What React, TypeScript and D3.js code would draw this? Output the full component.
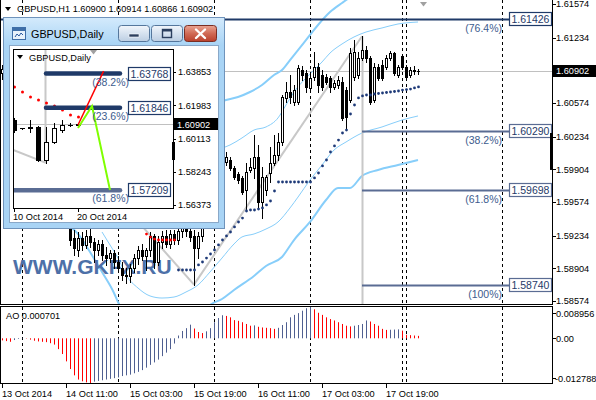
import React from "react";
import * as d3 from "d3";

const FONT = "'Liberation Sans', Arial, Helvetica, sans-serif";

// ---------- GBPUSD H1, bar index 0 = 14 Oct 2014 00:00 ----------
const h1FirstBar = -5;
const h1Open = [
  1.6088, 1.6092, 1.6097, 1.6093, 1.609, 1.6095, 1.6098, 1.6101, 1.6096, 1.6092,
  1.609, 1.6083, 1.6089, 1.6086, 1.607, 1.6022, 1.5975, 1.5946, 1.5921, 1.5909,
  1.5921, 1.5914, 1.5923, 1.5917, 1.5909, 1.5915, 1.5904, 1.5901, 1.5906, 1.5897,
  1.5891, 1.5884, 1.5883, 1.5891, 1.5901, 1.5909, 1.5903, 1.5909, 1.5923, 1.5897,
  1.5917, 1.5923, 1.5915, 1.5925, 1.5919, 1.5928, 1.5937, 1.5928, 1.5923, 1.5911,
  1.5923, 1.5945, 1.596, 1.5952, 1.5975, 1.5988, 1.59978, 1.59998, 1.59918, 1.59857,
  1.59817, 1.59695, 1.59898, 1.59918, 1.60029, 1.59574, 1.59695, 1.59867, 1.59968, 1.60049,
  1.6018, 1.60625, 1.60685, 1.60584, 1.60584, 1.60907, 1.60877, 1.60726, 1.60837, 1.60938,
  1.60857, 1.60837, 1.60827, 1.60736, 1.60756, 1.60786, 1.60705, 1.60604, 1.60837, 1.60857,
  1.61029, 1.61109, 1.61029, 1.60604, 1.60938, 1.60958, 1.60938, 1.61029, 1.61079, 1.60857,
  1.61049, 1.60938, 1.60857, 1.60897, 1.609,
];
const h1High = [
  1.6096, 1.6101, 1.6104, 1.6098, 1.6097, 1.6102, 1.6105, 1.6108, 1.6103, 1.6099,
  1.6096, 1.6094, 1.61, 1.6092, 1.6075, 1.603, 1.5983, 1.595, 1.5929, 1.5927,
  1.5927, 1.5929, 1.593, 1.5921, 1.5919, 1.5919, 1.5912, 1.5909, 1.5909, 1.5903,
  1.5897, 1.5891, 1.5895, 1.5905, 1.5913, 1.5915, 1.5911, 1.5927, 1.5925, 1.5923,
  1.5928, 1.5929, 1.5929, 1.5929, 1.5937, 1.5943, 1.5941, 1.5934, 1.5929, 1.5927,
  1.595, 1.5968, 1.5972, 1.5982, 1.5995, 1.6003, 1.60079, 1.60029, 1.59938, 1.59877,
  1.59837, 1.59968, 1.60019, 1.60251, 1.6015, 1.59928, 1.59847, 1.6013, 1.60251, 1.60271,
  1.60655, 1.60786, 1.60857, 1.60756, 1.60958, 1.60948, 1.60907, 1.60887, 1.61089, 1.60978,
  1.60907, 1.60867, 1.60847, 1.60806, 1.60847, 1.60837, 1.60736, 1.6113, 1.6121, 1.61089,
  1.61248, 1.6115, 1.61049, 1.60978, 1.60968, 1.61008, 1.61059, 1.61099, 1.61089, 1.60958,
  1.61069, 1.60958, 1.60938, 1.60948, 1.60914,
];
const h1Low = [
  1.6082, 1.6087, 1.6089, 1.6086, 1.6085, 1.609, 1.6093, 1.6094, 1.6088, 1.6085,
  1.6079, 1.6078, 1.6084, 1.6066, 1.601, 1.5968, 1.594, 1.5914, 1.5904, 1.5903,
  1.5909, 1.5911, 1.5912, 1.5897, 1.5904, 1.5899, 1.5894, 1.5897, 1.5891, 1.5887,
  1.5879, 1.5876, 1.5877, 1.5887, 1.5895, 1.5899, 1.5889, 1.5903, 1.5891, 1.5894,
  1.5911, 1.5912, 1.5911, 1.5915, 1.5915, 1.5922, 1.5923, 1.5918, 1.5874, 1.5901,
  1.5918, 1.5938, 1.5945, 1.5948, 1.5968, 1.598, 1.59948, 1.59898, 1.59807, 1.59766,
  1.59655, 1.59493, 1.59877, 1.59817, 1.59524, 1.59412, 1.59645, 1.59776, 1.59948, 1.59998,
  1.6015, 1.60584, 1.60574, 1.60554, 1.60564, 1.60806, 1.60685, 1.60705, 1.60806, 1.60685,
  1.60705, 1.60766, 1.60685, 1.60715, 1.60726, 1.60402, 1.60301, 1.60584, 1.60806, 1.60827,
  1.61008, 1.60988, 1.60564, 1.60584, 1.60806, 1.60806, 1.60917, 1.61008, 1.60857, 1.60837,
  1.60917, 1.60816, 1.60837, 1.60867, 1.60866,
];
const h1Close = [
  1.6092, 1.6097, 1.6093, 1.609, 1.6095, 1.6098, 1.6101, 1.6096, 1.6092, 1.609,
  1.6083, 1.6089, 1.6086, 1.607, 1.6022, 1.5975, 1.5946, 1.5919, 1.5911, 1.5921,
  1.5914, 1.5923, 1.5917, 1.5909, 1.5915, 1.5904, 1.5901, 1.5906, 1.5897, 1.5891,
  1.5884, 1.5883, 1.5891, 1.5901, 1.5909, 1.5903, 1.5909, 1.5923, 1.5897, 1.5917,
  1.5923, 1.5915, 1.5925, 1.5919, 1.5928, 1.5937, 1.5928, 1.5922, 1.5911, 1.5923,
  1.5945, 1.596, 1.5952, 1.5975, 1.5988, 1.5996, 1.60029, 1.59918, 1.59827, 1.59796,
  1.59675, 1.59877, 1.59928, 1.60029, 1.59574, 1.59827, 1.59827, 1.59968, 1.60049, 1.6018,
  1.60635, 1.60685, 1.60635, 1.60705, 1.60928, 1.60857, 1.60736, 1.60827, 1.60938, 1.60756,
  1.60736, 1.60786, 1.60736, 1.60776, 1.60806, 1.60423, 1.60433, 1.61079, 1.61089, 1.61029,
  1.61109, 1.61029, 1.60584, 1.60938, 1.60827, 1.60827, 1.61029, 1.61079, 1.60877, 1.60938,
  1.60938, 1.60837, 1.60907, 1.60905, 1.60902,
];

// Awesome Oscillator, same bars as the H1 candles
const aoValues = [
  -0.0006, -0.0008, -0.001, -0.0005, -0.0002, 0.0001, -0.0001, -0.0004, -0.0007, -0.0009,
  -0.001, -0.0011, -0.0014, -0.0018, -0.0031, -0.0045, -0.0066, -0.0088, -0.0106, -0.0118,
  -0.0123, -0.0126, -0.012788, -0.0124, -0.0122, -0.012, -0.0118, -0.0116, -0.0114, -0.0112,
  -0.0108, -0.0106, -0.0104, -0.01, -0.0096, -0.0091, -0.0084, -0.0076, -0.0069, -0.0061,
  -0.0051, -0.0041, -0.0031, -0.0015, 0.0008, 0.0021, 0.0029, 0.0039, 0.0028, 0.0018,
  0.0015, 0.002, 0.0029, 0.0046, 0.0058, 0.0066, 0.0064, 0.006, 0.0052, 0.005,
  0.0046, 0.0041, 0.0036, 0.0037, 0.0033, 0.0031, 0.003, 0.0029, 0.0027, 0.003,
  0.0038, 0.0046, 0.006, 0.0067, 0.0072, 0.0079, 0.0086, 0.008956, 0.0083, 0.0073,
  0.0067, 0.006, 0.0055, 0.0051, 0.0046, 0.0041, 0.0036, 0.0034, 0.0036, 0.0038,
  0.0041, 0.0051, 0.0048, 0.0041, 0.0036, 0.0027, 0.0024, 0.00245, 0.0025, 0.00255,
  0.0022, 0.001, 0.0009, 0.0008, 0.000701,
];
const aoLast = "0.000701";

// Parabolic SAR: below price (uptrend) and above price (downtrend)
const sarUpFirst = 39;
const sarUp = [
  1.58887, 1.58887, 1.58887, 1.58887, 1.58887, 1.58938, 1.58968, 1.59008, 1.59049, 1.59089,
  1.5914, 1.5919, 1.59231, 1.59271, 1.59322, 1.59372, 1.59412, 1.59483, 1.59493, 1.59493,
  1.59503, 1.59514, 1.59544, 1.59584, 1.59685, 1.59776, 1.59776, 1.59776, 1.59776, 1.59776,
  1.59776, 1.59776, 1.59776, 1.59776, 1.59817, 1.59867, 1.59938, 1.59998, 1.60079, 1.6014,
  1.602, 1.60271, 1.60301, 1.60463, 1.60554, 1.60625, 1.60645, 1.60655, 1.60655, 1.60665,
  1.6067, 1.60675, 1.6068, 1.60685, 1.6069, 1.60695, 1.60705, 1.6071, 1.60715, 1.60726,
  1.60736,
];
const sarDownFirst = 28;
const sarDown = [1.594, 1.5936, 1.5932, 1.5925, 1.5922, 1.592, 1.5919, 1.5919, 1.5919, 1.5919, 1.5919];

// Two pairs of bands: [bar, price]
const bandWideUpper: [number, number][] = [
  [48, 1.60564], [51, 1.60604], [54, 1.60635], [57, 1.60685], [60, 1.60756], [63, 1.60857],
  [65, 1.60907], [67, 1.61008], [69, 1.61109], [72, 1.61261], [74, 1.61362], [77, 1.61493],
  [80, 1.61584], [83, 1.61665], [86, 1.61715],
];
const bandWideLower: [number, number][] = [
  [12, 1.59332], [14, 1.59251], [17, 1.59069], [20, 1.58867], [23, 1.58655], [24, 1.58564],
  [26, 1.58433], [29, 1.58322], [33, 1.58251], [38, 1.58231], [43, 1.58332], [47, 1.58533],
  [50, 1.58594], [53, 1.58685], [58, 1.58827], [61, 1.58928], [65, 1.59019], [68, 1.5919],
  [72, 1.59372], [76, 1.59594], [79, 1.59716], [82, 1.59716], [85, 1.59837], [89, 1.59898],
  [94, 1.59948], [99, 1.59998],
];
const bandNarrowUpper: [number, number][] = [
  [48, 1.60099], [50, 1.60119], [52, 1.6015], [55, 1.60221], [58, 1.60301], [61, 1.60332],
  [64, 1.60423], [66, 1.60554], [68, 1.60685], [71, 1.60827], [73, 1.60907], [75, 1.60988],
  [77, 1.61079], [80, 1.6117], [83, 1.61241], [86, 1.61291], [90, 1.61332], [94, 1.61372],
  [99, 1.61392],
];
const bandNarrowLower: [number, number][] = [
  [20, 1.59271], [22, 1.5914], [24, 1.59008], [26, 1.58837], [29, 1.58705], [32, 1.58625],
  [35, 1.58604], [38, 1.58614], [41, 1.58665], [44, 1.58736], [47, 1.58867], [50, 1.59008],
  [53, 1.5915], [55, 1.59221], [58, 1.59251], [61, 1.59301], [64, 1.59372], [67, 1.59514],
  [69, 1.59624], [72, 1.59796], [75, 1.59948], [78, 1.60099], [81, 1.6018], [85, 1.60271],
  [90, 1.60332], [95, 1.60402], [99, 1.60443],
];

// Fibonacci objects on the H1 chart
const fibTrendA: [number, number][] = [[10, 1.6024], [43, 1.5874]];
const fibTrendB: [number, number][] = [[43, 1.5874], [85, 1.61248]];
const fibPrices = [1.61426, 1.6029, 1.59698, 1.5874];
const fibPercents = ["(76.4%)", "(38.2%)", "(61.8%)", "(100%)"];
const fibFromBar = [-5.5, 85, 85, 85];
const fibToBar = 121.75;
const fibTextBar = 120;

const priceTicks = [1.61574, 1.61234, 1.60574, 1.60234, 1.59904, 1.59574, 1.59234, 1.58904, 1.58574];
const lastPrice = 1.60902;
const h1Quote = ["1.60900", "1.60914", "1.60866", "1.60902"];
const separatorBars = [0, 24, 48, 72, 95, 96, 120];
const timeLabels = ["13 Oct 2014", "14 Oct 11:00", "15 Oct 03:00", "15 Oct 19:00", "16 Oct 11:00", "17 Oct 03:00", "17 Oct 19:00"];
const timeLabelBars = [-5, 11, 27, 43, 59, 75, 91];
const h1RangeMark = [1.59898, 1.60271];

// ---------- GBPUSD Daily (index 0 = 10 Oct 2014) ----------
const dailyOpen = [1.61153, 1.6068, 1.60703, 1.6076, 1.58904, 1.59916, 1.60591, 1.60872, 1.6088];
const dailyHigh = [1.61266, 1.6072, 1.61153, 1.6079, 1.6076, 1.60985, 1.61153, 1.60985, 1.60914];
const dailyLow = [1.60478, 1.6066, 1.60478, 1.58847, 1.5874, 1.5986, 1.60478, 1.60816, 1.60866];
const dailyClose = [1.60591, 1.607, 1.6076, 1.58904, 1.59916, 1.60703, 1.60872, 1.6088, 1.60902];
const dailySar = [1.63009, 1.62728, 1.62447, 1.62278, 1.62109, 1.61941, 1.61716, 1.61435, 1.61322];
const dailyTicks = [1.63853, 1.61983, 1.60113, 1.58243, 1.56373];
const dailyDateLabels = ["10 Oct 2014", "20 Oct 2014"];
const dailyDateBars = [0, 8];
const dailyFibPrices = [1.63768, 1.61846, 1.57209];
const dailyFibPercents = ["(38.2%)", "(23.6%)", "(61.8%)"];
const dailyFibFrom = [4, 4, -2];
const dailyFibTo = 13.25;
const dailyTrend: [number, number][] = [[-2, 1.5981], [4, 1.5874]];
const dailyRedLine: [number, number][] = [[8, 1.60872], [11.2, 1.639]];
const dailyGreenLine: [number, number][] = [[8, 1.60703], [9.75, 1.61941], [12, 1.57216]];
const dailyRangeMark = [1.58904, 1.59916];

const NAVY = "#1f3a68";
const SLATE = "#5a6c93";
const BAND = "#87cefa";
const GRAYLINE = "#c8c8c8";
const AO_UP = "#4f5f91";

export default function App() {
  const xH = d3.scaleLinear().domain([-5.5, 132.5]).range([0, 552]);
  const yH = d3.scaleLinear().domain([1.58574, 1.61574]).range([301, 4]);
  const yA = d3.scaleLinear().domain([-0.012788, 0.008956]).range([383, 307]);
  const xD = d3.scaleLinear().domain([0, 8]).range([14, 78]);
  const yD = d3.scaleLinear().domain([1.56373, 1.63853]).range([205, 72]);

  const hLine = d3
    .line<[number, number]>()
    .x((d) => xH(d[0]))
    .y((d) => yH(d[1]))
    .curve(d3.curveMonotoneX);
  const hStraight = d3.line<[number, number]>().x((d) => xH(d[0])).y((d) => yH(d[1]));
  const dStraight = d3.line<[number, number]>().x((d) => xD(d[0])).y((d) => yD(d[1]));

  const txt = { fontFamily: FONT, fontSize: 9.2, fill: "#000" } as const;

  const candle = (
    key: string,
    X: number,
    o: number,
    h: number,
    l: number,
    c: number,
    ys: (v: number) => number,
    half: number
  ) => {
    const top = Math.round(ys(Math.max(o, c)));
    const bot = Math.round(ys(Math.min(o, c)));
    const bull = c >= o;
    return (
      <g key={key}>
        <line x1={X + 0.5} x2={X + 0.5} y1={Math.round(ys(h))} y2={Math.round(ys(l)) + 1} stroke="#000" strokeWidth={1} />
        {bot - top < 1 ? (
          <line x1={X - half} x2={X + half + 1} y1={top + 0.5} y2={top + 0.5} stroke="#000" strokeWidth={1} />
        ) : (
          <rect x={X - half + 0.5} y={top + 0.5} width={half * 2} height={bot - top} fill={bull ? "#fff" : "#000"} stroke="#000" strokeWidth={1} />
        )}
      </g>
    );
  };

  const fibLabelW = 42;

  return (
    <svg
      width={596}
      height={400}
      viewBox="0 0 596 400"
      style={{ position: "fixed", left: 0, top: 0, display: "block", background: "#fff" }}
      shapeRendering="auto"
    >
      <defs>
        <clipPath id="mainClip">
          <rect x={1} y={-20} width={551} height={324} />
        </clipPath>
        <clipPath id="subClip">
          <rect x={1} y={307} width={551} height={76} />
        </clipPath>
        <clipPath id="dailyClip">
          <rect x={13.5} y={49.5} width={159.5} height={158.5} />
        </clipPath>
        <linearGradient id="titleGrad" x1="0" y1="0" x2="0" y2="1">
          <stop offset="0" stopColor="#d3eafc" />
          <stop offset="1" stopColor="#a9d4f5" />
        </linearGradient>
        <linearGradient id="btnGrad" x1="0" y1="0" x2="0" y2="1">
          <stop offset="0" stopColor="#f2f6fb" />
          <stop offset="0.5" stopColor="#d6e2ef" />
          <stop offset="1" stopColor="#bccee2" />
        </linearGradient>
        <linearGradient id="closeGrad" x1="0" y1="0" x2="0" y2="1">
          <stop offset="0" stopColor="#eaa594" />
          <stop offset="0.5" stopColor="#d06a55" />
          <stop offset="1" stopColor="#b9402c" />
        </linearGradient>
      </defs>

      <rect x={0} y={0} width={596} height={400} fill="#fff" />

      {/* ---------------- main H1 chart ---------------- */}
      <g clipPath="url(#mainClip)">
        {separatorBars.map((b) => (
          <line key={"sep" + b} x1={Math.round(xH(b)) + 0.5} x2={Math.round(xH(b)) + 0.5} y1={0} y2={305} stroke="#000" strokeDasharray="3,3" />
        ))}
        <line x1={0} x2={552} y1={Math.round(yH(lastPrice)) + 0.5} y2={Math.round(yH(lastPrice)) + 0.5} stroke="#c0c0c0" />

        <path d={hLine(bandWideUpper) || ""} fill="none" stroke={BAND} strokeWidth={2} />
        <path d={hLine(bandWideLower) || ""} fill="none" stroke={BAND} strokeWidth={2} />
        <path d={hLine(bandNarrowUpper) || ""} fill="none" stroke={BAND} strokeWidth={1} />
        <path d={hLine(bandNarrowLower) || ""} fill="none" stroke={BAND} strokeWidth={1} />

        <path d={hStraight(fibTrendA) || ""} fill="none" stroke={GRAYLINE} strokeWidth={2} />
        <path d={hStraight(fibTrendB) || ""} fill="none" stroke={GRAYLINE} strokeWidth={2} />
        <line x1={xH(fibTrendB[1][0]) + 0.5} x2={xH(fibTrendB[1][0]) + 0.5} y1={yH(fibTrendB[1][1])} y2={305} stroke={GRAYLINE} strokeWidth={2} />

        <text x={13} y={274} style={{ fontFamily: FONT, fontWeight: 700, fontSize: 21, fill: "#4d70a8" }}>
          WWW.GKFX.RU
        </text>

        {h1Open.map((o, k) =>
          candle("c" + k, Math.round(xH(h1FirstBar + k)), o, h1High[k], h1Low[k], h1Close[k], yH, 1)
        )}

        {sarUp.map((v, k) => (
          <circle key={"su" + k} cx={xH(sarUpFirst + k) + 0.5} cy={yH(v)} r={1.4} fill="#1e3a78" />
        ))}
        {sarDown.map((v, k) => (
          <circle key={"sd" + k} cx={xH(sarDownFirst + k) + 0.5} cy={yH(v)} r={1.4} fill="#ff0000" />
        ))}

        {fibPrices.map((p, k) => {
          const yy = Math.round(yH(p)) + 0.5;
          const col = k === 0 ? NAVY : SLATE;
          return (
            <g key={"fib" + k}>
              <line x1={xH(fibFromBar[k])} x2={xH(fibToBar)} y1={yy} y2={yy} stroke={col} strokeWidth={2} />
              <text x={xH(fibTextBar)} y={yy + 12} textAnchor="end" style={{ fontFamily: FONT, fontSize: 10.5, fill: "#3d5c8e" }}>
                {fibPercents[k]}
              </text>
            </g>
          );
        })}
      </g>

      {/* fib price boxes sit on the axis edge */}
      {fibPrices.map((p, k) => {
        const yy = Math.round(yH(p));
        const col = k === 0 ? NAVY : SLATE;
        return (
          <g key={"fibbox" + k}>
            <rect x={Math.round(xH(fibToBar)) + 0.5} y={yy - 6.5} width={fibLabelW} height={13} fill="#fff" stroke={col} strokeWidth={1.2} />
            <text x={Math.round(xH(fibToBar)) + 2.5} y={yy + 4} style={{ fontFamily: FONT, fontSize: 10.5, fill: NAVY }}>
              {p.toFixed(5)}
            </text>
          </g>
        );
      })}

      {/* chart shift marker */}
      <path d="M420,2 L427,2 L423.5,6.5 Z" fill="#a0a0a0" />

      {/* main frame */}
      <line x1={0.5} x2={0.5} y1={0} y2={305} stroke="#000" />
      <line x1={552.5} x2={552.5} y1={0} y2={305} stroke="#000" />
      <line x1={0} x2={553} y1={304.5} y2={304.5} stroke="#000" />
      <rect x={Math.round(xH(132.5)) - 2} y={yH(h1RangeMark[1])} width={3} height={yH(h1RangeMark[0]) - yH(h1RangeMark[1])} fill="#000" />

      {/* title */}
      <path d="M5,7 L11,7 L8,11 Z" fill="#000" />
      <text x={17} y={12} style={txt}>
        {"GBPUSD,H1  " + h1Quote.join("  ")}
      </text>

      {/* price axis */}
      {priceTicks.map((p) => (
        <g key={"pt" + p}>
          <line x1={552} x2={556} y1={Math.round(yH(p)) + 0.5} y2={Math.round(yH(p)) + 0.5} stroke="#000" />
          <text x={556} y={yH(p) + 3.3} style={txt}>
            {p.toFixed(5)}
          </text>
        </g>
      ))}
      <rect x={553} y={Math.round(yH(lastPrice)) - 6} width={43} height={12} fill="#000" />
      <text x={556} y={yH(lastPrice) + 3.3} style={{ ...txt, fill: "#fff" }}>
        {lastPrice.toFixed(5)}
      </text>

      {/* ---------------- AO sub-window ---------------- */}
      <g clipPath="url(#subClip)">
        {separatorBars.map((b) => (
          <line key={"sep2" + b} x1={Math.round(xH(b)) + 0.5} x2={Math.round(xH(b)) + 0.5} y1={307} y2={383} stroke="#000" strokeDasharray="3,3" />
        ))}
        {aoValues.map((v, k) => {
          const up = k > 0 && v > aoValues[k - 1];
          const X = Math.round(xH(h1FirstBar + k)) + 0.5;
          return <line key={"ao" + k} x1={X} x2={X} y1={yA(0)} y2={yA(v)} stroke={up ? AO_UP : "#ff0000"} strokeWidth={1} />;
        })}
      </g>
      <rect x={0.5} y={306.5} width={552} height={77} fill="none" stroke="#000" />
      <text x={6} y={319} style={txt}>
        {"AO " + aoLast}
      </text>
      <line x1={552} x2={556} y1={313.5} y2={313.5} stroke="#000" />
      <text x={556} y={317} style={txt}>0.008956</text>
      <line x1={552} x2={556} y1={Math.round(yA(0)) + 0.5} y2={Math.round(yA(0)) + 0.5} stroke="#000" />
      <text x={556} y={yA(0) + 3.3} style={txt}>0.00</text>
      <line x1={552} x2={556} y1={378.5} y2={378.5} stroke="#000" />
      <text x={555} y={382} style={txt}>-0.012788</text>

      {/* time axis */}
      {timeLabelBars.map((b, k) => (
        <g key={"tl" + k}>
          <line x1={Math.round(xH(b)) + 0.5} x2={Math.round(xH(b)) + 0.5} y1={384} y2={388} stroke="#000" />
          <text x={xH(b)} y={397} style={txt}>
            {timeLabels[k]}
          </text>
        </g>
      ))}

      {/* ---------------- Daily child window ---------------- */}
      <g>
        <rect x={3.5} y={17.5} width={221} height={211} fill="#a9d4f5" stroke="#6f93bb" />
        <rect x={4} y={18} width={220} height={27} fill="url(#titleGrad)" />
        {/* window icon */}
        <rect x={12.5} y={27.5} width={13} height={12} fill="#e8f2fb" stroke="#3f6fa8" />
        <rect x={13} y={28} width={12} height={3} fill="#3f6fa8" />
        <path d="M15,37 L17,34 L19,36 L21,33 L23,35" fill="none" stroke="#2a5aa0" strokeWidth={1} />
        <text x={31} y={38} style={{ fontFamily: FONT, fontSize: 10.8, fill: "#000" }}>
          GBPUSD,Daily
        </text>
        {/* caption buttons */}
        <rect x={118.5} y={25.5} width={31} height={16} rx={3} fill="url(#btnGrad)" stroke="#55779c" />
        <rect x={129} y={34} width={10} height={3} fill="#2b3f5e" stroke="#fff" strokeWidth={0.6} />
        <rect x={151.5} y={25.5} width={31} height={16} rx={3} fill="url(#btnGrad)" stroke="#55779c" />
        <rect x={162.5} y={29.5} width={9} height={8} fill="none" stroke="#2b3f5e" strokeWidth={1.4} />
        <line x1={162.5} x2={171.5} y1={30.5} y2={30.5} stroke="#2b3f5e" strokeWidth={2} />
        <rect x={184.5} y={25.5} width={32} height={16} rx={3} fill="url(#closeGrad)" stroke="#7a2e24" />
        <path d="M196,29.5 L205,38 M205,29.5 L196,38" stroke="#fff" strokeWidth={2.4} strokeLinecap="round" />

        {/* client area */}
        <rect x={9.5} y={45.5} width={209} height={177} fill="#fff" stroke="#8aa8c8" />

        <g clipPath="url(#dailyClip)">
          <line x1={13} x2={173} y1={Math.round(yD(lastPrice)) + 0.5} y2={Math.round(yD(lastPrice)) + 0.5} stroke="#c0c0c0" />
          <path d={dStraight(dailyTrend) || ""} fill="none" stroke={GRAYLINE} strokeWidth={2} />
          <line x1={xD(dailyTrend[1][0]) - 0.5} x2={xD(dailyTrend[1][0]) - 0.5} y1={49} y2={yD(dailyTrend[1][1])} stroke={GRAYLINE} strokeWidth={2} />

          {dailyOpen.map((o, k) =>
            candle("dc" + k, Math.round(xD(k)), o, dailyHigh[k], dailyLow[k], dailyClose[k], yD, 2)
          )}
          {dailySar.map((v, k) => (
            <circle key={"ds" + k} cx={xD(k) + 0.5} cy={yD(v)} r={1.5} fill="#ff0000" />
          ))}

          {dailyFibPrices.map((p, k) => (
            <line
              key={"dfb" + k}
              x1={xD(dailyFibFrom[k])}
              x2={xD(dailyFibTo)}
              y1={yD(p)}
              y2={yD(p)}
              stroke={k === 2 ? SLATE : NAVY}
              strokeWidth={4.5}
              strokeLinecap="round"
            />
          ))}
          <path d={dStraight(dailyRedLine) || ""} fill="none" stroke="#ff0000" strokeWidth={1.5} />
          <path d={dStraight(dailyGreenLine) || ""} fill="none" stroke="#7fff00" strokeWidth={2} />
          {dailyFibPrices.map((p, k) => (
            <text key={"dfp" + k} x={xD(dailyFibTo) + 9} y={yD(p) + 12} textAnchor="end" style={{ fontFamily: FONT, fontSize: 10.5, fill: "#3d5c8e" }}>
              {dailyFibPercents[k]}
            </text>
          ))}
          {dailyFibPrices.map((p, k) => (
            <g key={"dfl" + k}>
              <rect x={Math.round(xD(dailyFibTo)) + 8.5} y={Math.round(yD(p)) - 6.5} width={42} height={13} fill="#fff" stroke={NAVY} strokeWidth={1.2} />
              <text x={Math.round(xD(dailyFibTo)) + 10.5} y={Math.round(yD(p)) + 4} style={{ fontFamily: FONT, fontSize: 10.5, fill: NAVY }}>
                {p.toFixed(5)}
              </text>
            </g>
          ))}
        </g>

        {/* daily frame and axes */}
        <line x1={13} x2={173.5} y1={49.5} y2={49.5} stroke="#000" />
        <line x1={13.5} x2={13.5} y1={49} y2={208.5} stroke="#000" />
        <line x1={13} x2={173.5} y1={208.5} y2={208.5} stroke="#000" />
        <line x1={173.5} x2={173.5} y1={49} y2={209} stroke="#000" />
        <path d="M90,50 L97,50 L93.5,54.5 Z" fill="#a0a0a0" />
        <path d="M17,55 L23,55 L20,59 Z" fill="#000" />
        <text x={29} y={61} style={txt}>GBPUSD,Daily</text>
        <rect x={172} y={yD(dailyRangeMark[1])} width={3} height={yD(dailyRangeMark[0]) - yD(dailyRangeMark[1])} fill="#000" />

        {dailyTicks.map((p) => (
          <g key={"dt" + p}>
            <line x1={173} x2={176} y1={Math.round(yD(p)) + 0.5} y2={Math.round(yD(p)) + 0.5} stroke="#000" />
            <text x={178} y={yD(p) + 3.3} style={txt}>
              {p.toFixed(5)}
            </text>
          </g>
        ))}
        <rect x={174} y={Math.round(yD(lastPrice)) - 6} width={44} height={12} fill="#000" />
        <text x={177} y={yD(lastPrice) + 3.3} style={{ ...txt, fill: "#fff" }}>
          {lastPrice.toFixed(5)}
        </text>
        {dailyDateBars.map((b, k) => (
          <g key={"dd" + k}>
            <line x1={Math.round(xD(b)) + 0.5} x2={Math.round(xD(b)) + 0.5} y1={208} y2={212} stroke="#000" />
            <text x={xD(b) - 1} y={220} style={txt}>
              {dailyDateLabels[k]}
            </text>
          </g>
        ))}
      </g>
    </svg>
  );
}
